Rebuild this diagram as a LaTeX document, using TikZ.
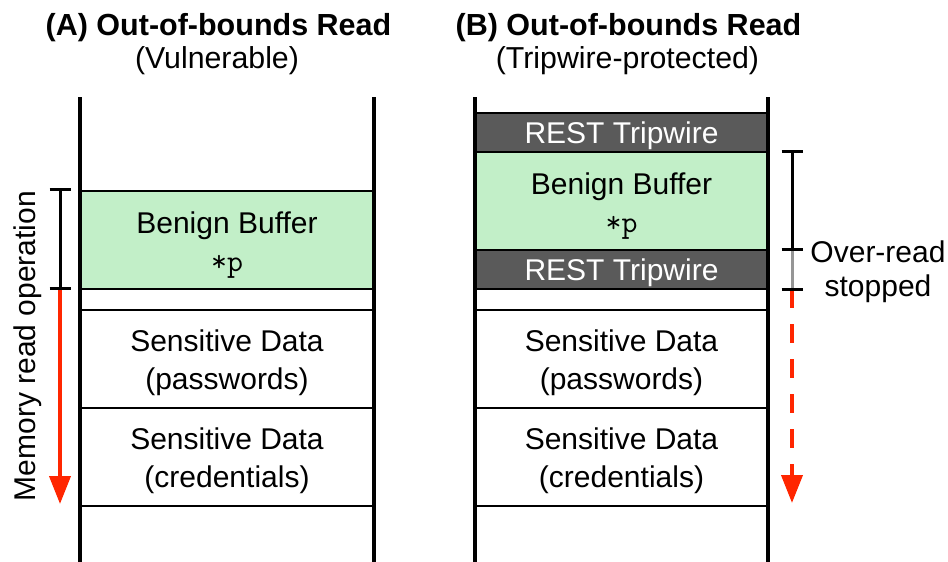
\documentclass[tikz,border=0pt]{standalone}
\usepackage{fontspec}
\setmainfont{Liberation Sans}
\usetikzlibrary{arrows.meta}
\definecolor{bufgreen}{RGB}{194,239,200}
\definecolor{tripgrey}{RGB}{90,90,90}
\definecolor{readred}{RGB}{255,38,0}
\definecolor{stopgrey}{RGB}{150,150,150}
\newcommand{\ptrtext}{{\ttfamily\fontsize{31}{38}\selectfont\addfontfeatures{FakeBold=1.2}*p}}
\tikzset{
  txt/.style={font=\fontsize{30}{38}\selectfont, inner sep=0pt, outer sep=0pt},
  titletxt/.style={font=\bfseries\fontsize{30.5}{35}\selectfont, inner sep=0pt, anchor=base},
  subtxt/.style={font=\fontsize{30.3}{35}\selectfont, inner sep=0pt, anchor=base},
  cell/.style={txt, draw=black, line width=2.5pt, minimum height=98pt},
  cellL/.style={cell, minimum width=294pt},
  cellR/.style={cell, minimum width=293pt},
  bufcell/.style={fill=bufgreen},
  tripcell/.style={fill=tripgrey, minimum height=39pt},
  gapcell/.style={minimum height=21pt},
  celltext/.style={txt, align=center},
  triptext/.style={txt, text=white, yshift=-2.9pt},
  wall/.style={line width=4pt, black},
  brack/.style={line width=3pt, black},
  readarrow/.style={line width=4pt, readred, -{Triangle[length=28pt,width=21pt]}},
}
\begin{document}
\begin{tikzpicture}[x=1pt,y=-1pt]
\useasboundingbox (0,0) rectangle (948,562);

% titles
\node[titletxt] (titleA) at (218.5,35) {(A) Out-of-bounds Read};
\node[subtxt] (subA) at (217,68) {(Vulnerable)};
\node[titletxt] (titleB) at (628.5,35) {(B) Out-of-bounds Read};
\node[subtxt] (subB) at (627.5,68) {(Tripwire-protected)};

% panel A cells
\node[cellL, bufcell] (Abuf) at (227,240) {};
\node[cellL, gapcell] (Agap) at (227,299.5) {};
\node[cellL] (Apw) at (227,359) {};
\node[cellL] (Acr) at (227,457) {};
\node[celltext, yshift=-5.45pt] (AbufT) at (Abuf) {Benign Buffer\\\ptrtext};
\node[celltext, yshift=-3.25pt] (ApwT) at (Apw) {Sensitive Data\\(passwords)};
\node[celltext, yshift=-3.25pt] (AcrT) at (Acr) {Sensitive Data\\(credentials)};

% panel B cells
\node[cellR, tripcell] (Btrip1) at (621.5,132.5) {};
\node[cellR, bufcell] (Bbuf) at (621.5,201) {};
\node[cellR, tripcell] (Btrip2) at (621.5,269.5) {};
\node[cellR, gapcell] (Bgap) at (621.5,299.5) {};
\node[cellR] (Bpw) at (621.5,359) {};
\node[cellR] (Bcr) at (621.5,457) {};
\node[triptext] (Btrip1T) at (Btrip1) {REST Tripwire};
\node[celltext, yshift=-4.95pt] (BbufT) at (Bbuf) {Benign Buffer\\\ptrtext};
\node[triptext] (Btrip2T) at (Btrip2) {REST Tripwire};
\node[celltext, yshift=-3.25pt] (BpwT) at (Bpw) {Sensitive Data\\(passwords)};
\node[celltext, yshift=-3.25pt] (BcrT) at (Bcr) {Sensitive Data\\(credentials)};

% walls
\coordinate (AwLt) at (80,97);  \coordinate (AwLb) at (80,562);
\coordinate (AwRt) at (374,97); \coordinate (AwRb) at (374,562);
\coordinate (BwLt) at (475,97); \coordinate (BwLb) at (475,562);
\coordinate (BwRt) at (768,97); \coordinate (BwRb) at (768,562);
\draw[wall] (AwLt) -- (AwLb);
\draw[wall] (AwRt) -- (AwRb);
\draw[wall] (BwLt) -- (BwLb);
\draw[wall] (BwRt) -- (BwRb);

% panel A read bracket and arrow
\coordinate (Ab1) at (60,189);
\coordinate (Ab2) at (60,288);
\coordinate (Aend) at (60,504);
\draw[readarrow] (Ab2) -- (Aend);
\draw[brack] (Ab1) -- (Ab2);
\draw[brack] ([xshift=-10.5pt]Ab1) -- ([xshift=10.5pt]Ab1);
\draw[brack] ([xshift=-10.5pt]Ab2) -- ([xshift=10.5pt]Ab2);
\node[txt, rotate=90, anchor=base] (memlabel) at (35,346) {Memory read operation};

% panel B read bracket and arrow
\coordinate (Bb1) at (792,151);
\coordinate (Bb2) at (792,249);
\coordinate (Bb3) at (792,289);
\coordinate (Bend) at (792,503);
\draw[readarrow, dash pattern=on 19pt off 16pt] (Bb3) -- (Bend);
\draw[brack] (Bb1) -- (Bb2);
\draw[line width=3pt, stopgrey] (Bb2) -- (Bb3);
\draw[brack] ([xshift=-10.5pt]Bb1) -- ([xshift=10.5pt]Bb1);
\draw[brack] ([xshift=-10.5pt]Bb2) -- ([xshift=10.5pt]Bb2);
\draw[brack] ([xshift=-10.5pt]Bb3) -- ([xshift=10.5pt]Bb3);
\node[txt, align=center, font=\fontsize{30}{33.5}\selectfont] (stoplabel) at (878,271.5) {Over-read\\stopped};
\end{tikzpicture}
\end{document}
